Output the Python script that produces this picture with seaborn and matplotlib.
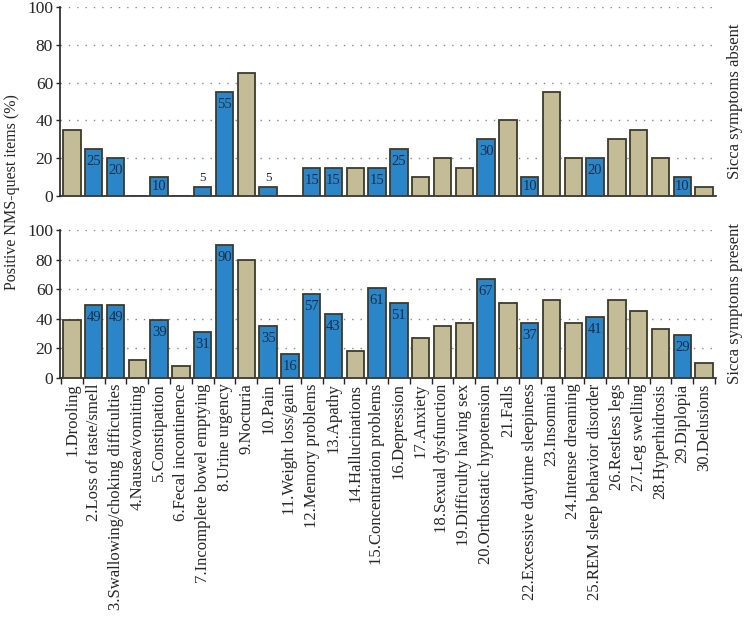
import matplotlib
matplotlib.use("Agg")
import matplotlib.pyplot as plt
import seaborn as sns
import pandas as pd
import numpy as np
from matplotlib.ticker import FixedLocator

items = ["1.Drooling", "2.Loss of taste/smell", "3.Swallowing/choking difficulties",
         "4.Nausea/vomiting", "5.Constipation", "6.Fecal incontinence",
         "7.Incomplete bowel emptying", "8.Urine urgency", "9.Nocturia", "10.Pain",
         "11.Weight loss/gain", "12.Memory problems", "13.Apathy", "14.Hallucinations",
         "15.Concentration problems", "16.Depression", "17.Anxiety",
         "18.Sexual dysfunction", "19.Difficulty having sex", "20.Orthostatic hypotension",
         "21.Falls", "22.Excessive daytime sleepiness", "23.Insomnia",
         "24.Intense dreaming", "25.REM sleep behavior disorder", "26.Restless legs",
         "27.Leg swelling", "28.Hyperhidrosis", "29.Diplopia", "30.Delusions"]

absent = [35, 25, 20, 0, 10, 0, 5, 55, 65, 5, 0, 15, 15, 15, 15, 25, 10, 20, 15, 30,
          40, 10, 55, 20, 20, 30, 35, 20, 10, 5]
present = [39, 49, 49, 12, 39, 8, 31, 90, 80, 35, 16, 57, 43, 18, 61, 51, 27, 35, 37, 67,
           51, 37, 53, 37, 41, 53, 45, 33, 29, 10]
highlight = [False, True, True, False, True, False, True, True, False, True, True, True,
             True, False, True, True, False, False, False, True, False, True, False,
             False, True, False, False, False, True, False]

BLUE = "#2a86c8"
TAN = "#c4bc96"
EDGE = "#3c3c2c"
LABEL_C = "#1a2f4a"

df = pd.DataFrame({"item": items, "absent": absent, "present": present,
                   "hl": highlight})
palette = {it: (BLUE if h else TAN) for it, h in zip(items, highlight)}

sns.set_style("white")
plt.rcParams["font.family"] = ["Liberation Serif", "DejaVu Serif"]

fig = plt.figure(figsize=(7.47, 6.25), dpi=100)
ax1 = fig.add_axes([60 / 747, 1 - 196 / 625, (716 - 60) / 747, 189 / 625])
ax2 = fig.add_axes([60 / 747, 1 - 378 / 625, (716 - 60) / 747, 148 / 625])

for ax, col in [(ax1, "absent"), (ax2, "present")]:
    sns.barplot(data=df, x="item", y=col, hue="item", order=items, hue_order=items,
                palette=palette, legend=False, width=0.8, edgecolor=EDGE,
                linewidth=1.3, saturation=1, ax=ax, zorder=3)
    ax.set_ylim(0, 100)
    ax.set_xlim(-0.55, 29.55)
    ax.set_yticks([0, 20, 40, 60, 80, 100])
    ax.tick_params(axis="y", labelsize=12.5, length=3, width=1, direction="out",
                   left=True, pad=2)
    for yv in [20, 40, 60, 80, 100]:
        ax.axhline(yv, color="#888888", linestyle=(0, (1, 5)), linewidth=1, zorder=1)
    for s in ["top", "right"]:
        ax.spines[s].set_visible(False)
    for s in ["left", "bottom"]:
        ax.spines[s].set_color("#222222")
        ax.spines[s].set_linewidth(1.2)
    ax.set_ylabel("")
    ax.set_xlabel("")
    # bar value labels on highlighted bars
    yr = ax.get_position().height * 625 / 100.0  # pixels per unit
    for i, (v, h) in enumerate(zip(df[col], df["hl"])):
        if not h or v <= 0:
            continue
        hpx = v * yr
        if hpx < 14:
            ax.annotate(f"{v}", (i, v), xytext=(0, 1.5), textcoords="offset points",
                        ha="center", va="bottom", fontsize=9.5, color=LABEL_C, zorder=4)
        else:
            off_px = min(12.5, hpx / 2)
            ax.annotate(f"{v}", (i, v), xytext=(0, -off_px * 72 / 100),
                        textcoords="offset points", ha="center", va="center",
                        fontsize=10.5, color=LABEL_C, zorder=4)

ax1.set_xticks([])
ax1.tick_params(axis="x", bottom=False, labelbottom=False)

ax2.set_xticks(range(len(items)))
ax2.set_xticklabels(items, rotation=90, fontsize=12)
ax2.tick_params(axis="x", which="major", length=0, pad=4)
ax2.xaxis.set_minor_locator(FixedLocator(np.arange(-0.5, 30, 1.0)))
ax2.tick_params(axis="x", which="minor", length=4, width=1, direction="out",
                bottom=True, color="#222222")

fig.text(735 / 747, 1 - 101 / 625, "Sicca symptoms absent", rotation=90,
         ha="center", va="center", fontsize=12)
fig.text(735 / 747, 1 - 304 / 625, "Sicca symptoms present", rotation=90,
         ha="center", va="center", fontsize=12)
fig.text(12 / 747, 1 - 192 / 625, "Positive NMS-quest items (%)", rotation=90,
         ha="center", va="center", fontsize=11.5)

fig.savefig("out.png", dpi=100)
